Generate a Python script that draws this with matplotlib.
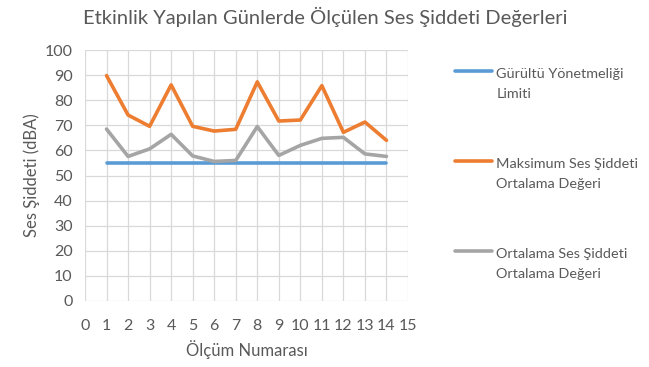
import matplotlib
matplotlib.use("Agg")
import matplotlib.pyplot as plt
from matplotlib.legend_handler import HandlerLine2D

# okuma numaralari ve degerler
olcum = list(range(1, 15))
limit = [55] * 14
maks = [89.8, 74.1, 69.6, 86.1, 69.6, 67.7, 68.4, 87.3, 71.7, 72.1, 85.8, 67.2, 71.3, 64.0]
ort = [68.5, 57.6, 60.6, 66.4, 57.8, 55.6, 56.0, 69.5, 58.0, 62.0, 64.8, 65.2, 58.6, 57.6]

labels = ["Gürültü Yönetmeliği\nLimiti",
          "Maksimum Ses Şiddeti\nOrtalama Değeri",
          "Ortalama Ses Şiddeti\nOrtalama Değeri"]
colors = ["#5b9bd5", "#ed7d31", "#a5a5a5"]

plt.rcParams['font.family'] = ['Lato', 'DejaVu Sans']
txt = "#595959"


class TopHandler(HandlerLine2D):
    # legend cizgisini ilk satira hizala
    def create_artists(self, legend, orig_handle, xdescent, ydescent,
                       width, height, fontsize, trans):
        return super().create_artists(legend, orig_handle, xdescent,
                                      ydescent - 1.75 * fontsize, width, height,
                                      fontsize, trans)


fig = plt.figure(figsize=(6.49, 3.67), dpi=100)
ax = fig.add_axes([85 / 649, 1 - 301 / 367, 323 / 649, 251 / 367])

lines = []
for y, c, lab in zip([limit, maks, ort], colors, labels):
    ln, = ax.plot(olcum, y, color=c, lw=2.6, label=lab, solid_capstyle="round")
    lines.append(ln)

ax.set_xlim(0, 15)
ax.set_ylim(0, 100)
ax.set_xticks(range(0, 16))
ax.set_yticks(range(0, 101, 10))
ax.grid(True, color="#d9d9d9", lw=0.9)
ax.set_axisbelow(True)
for s in ax.spines.values():
    s.set_visible(False)
ax.tick_params(axis="y", length=0, labelsize=11.5, colors=txt, pad=9)
ax.tick_params(axis="x", length=0, labelsize=11.5, colors=txt, pad=13)

ax.set_xlabel("Ölçüm Numarası", fontsize=12, color=txt, labelpad=5)
ax.set_ylabel("Ses Şiddeti (dBA)", fontsize=12, color=txt, labelpad=3)
fig.text(325 / 649, 1 - 17 / 367, "Etkinlik Yapılan Günlerde Ölçülen Ses Şiddeti Değerleri",
         ha="center", va="center", fontsize=14.5, color=txt)

leg = fig.legend(handles=lines, loc="upper left", bbox_to_anchor=(455 / 649, 1 - 68 / 367),
                 frameon=False, fontsize=10.4, labelcolor=txt, labelspacing=4.05,
                 handlelength=2.55, handletextpad=0.3, borderpad=0, borderaxespad=0,
                 handler_map={ln: TopHandler() for ln in lines})
for t in leg.get_texts():
    t.set_linespacing(1.75)

fig.savefig("out.png", dpi=100)
